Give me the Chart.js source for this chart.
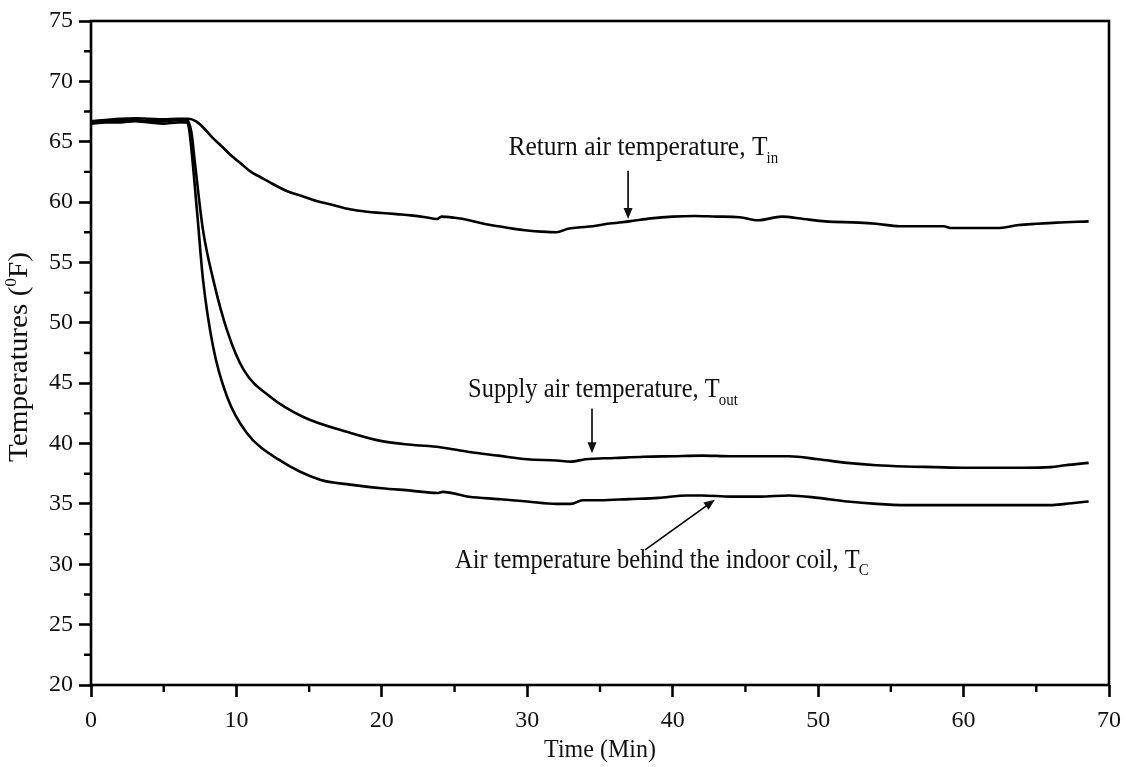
<!DOCTYPE html>
<html>
<head>
<meta charset="utf-8">
<script src="https://cdn.jsdelivr.net/npm/chart.js@4.4.1/dist/chart.umd.min.js"></script>
<style>
  html, body { margin: 0; padding: 0; background: #fff; }
</style>
</head>
<body>
<canvas id="tempChart" width="1130" height="767"></canvas>
<script>
// -------------------------------------
// Data
// -------------------------------------
const returnTime = [0, 1, 2, 3, 4, 5, 6, 6.7, 7.2, 7.7, 8.3, 9.0, 9.6, 10.3, 11, 11.6, 12.5, 13.5, 14.5, 15.5, 16.5, 17.8, 19, 20, 21, 22, 23, 23.8, 24.1, 25, 26, 27, 28, 29, 30, 31, 32, 32.8, 33.5, 34.5, 35.5, 37, 38.5, 40, 41.5, 43, 44.6, 45.9, 47.5, 49, 50.5, 52.8, 54, 55.6, 57, 58.6, 59.2, 61, 62.3, 63.8, 65, 66.4, 68.6];
const returnTemp = [66.7, 66.8, 66.9, 66.95, 66.9, 66.85, 66.9, 66.9, 66.7, 66.2, 65.4, 64.6, 63.9, 63.2, 62.5, 62.1, 61.5, 60.9, 60.5, 60.1, 59.8, 59.4, 59.2, 59.1, 59.0, 58.9, 58.75, 58.6, 58.8, 58.7, 58.5, 58.2, 58.0, 57.8, 57.65, 57.55, 57.5, 57.8, 57.9, 58.0, 58.2, 58.4, 58.65, 58.8, 58.85, 58.8, 58.75, 58.5, 58.8, 58.6, 58.4, 58.3, 58.2, 58.0, 58.0, 58.0, 57.85, 57.85, 57.85, 58.1, 58.2, 58.3, 58.4];

const supplyTime = [0, 1, 2, 3, 4, 5, 6, 6.6, 6.9, 7.15, 7.7, 8.4, 9.35, 10.5, 12.3, 14.6, 17.8, 20, 22, 24, 26, 28, 30, 32, 33, 34, 36, 38, 40, 42, 44, 46, 48, 50, 52, 54, 56, 58, 60, 62, 64, 66, 67, 68.6];
const supplyTemp = [66.6, 66.7, 66.8, 66.8, 66.7, 66.7, 66.8, 66.8, 65.8, 63.2, 57.7, 53.6, 49.4, 46.1, 43.9, 42.2, 40.9, 40.2, 39.9, 39.7, 39.3, 39.0, 38.7, 38.6, 38.5, 38.7, 38.8, 38.9, 38.95, 39.0, 38.95, 38.95, 38.95, 38.7, 38.4, 38.2, 38.1, 38.05, 38.0, 38.0, 38.0, 38.05, 38.2, 38.4];

const coilTime = [0, 1, 2, 3, 4, 5, 6, 6.6, 6.75, 7.3, 7.7, 8.4, 9.35, 10.7, 13, 15.75, 17.8, 20, 22, 23.8, 24.2, 26, 28, 30, 32, 33, 33.8, 35, 37, 39, 41, 42, 44, 46, 48, 50, 52, 54, 56, 58, 60, 62, 64, 66, 67, 68.6];
const coilTemp = [66.5, 66.6, 66.6, 66.7, 66.6, 66.5, 66.6, 66.6, 66.0, 59.1, 53.6, 48.0, 43.9, 40.9, 38.6, 37.0, 36.6, 36.3, 36.1, 35.9, 36.0, 35.6, 35.4, 35.2, 35.0, 35.0, 35.3, 35.3, 35.4, 35.5, 35.7, 35.7, 35.6, 35.6, 35.7, 35.5, 35.2, 35.0, 34.9, 34.9, 34.9, 34.9, 34.9, 34.9, 35.0, 35.2];

const xTicks = [0, 10, 20, 30, 40, 50, 60, 70];
const yTicks = [20, 25, 30, 35, 40, 45, 50, 55, 60, 65, 70, 75];

const FONT = "'Liberation Serif', 'Times New Roman', serif";
const STRETCH = 1.08; // the scanned figure's text is a little tall

function toPoints(ts, vs) {
  return ts.map((t, i) => ({ x: t, y: vs[i] }));
}

function lineSet(label, ts, vs) {
  return {
    label: label,
    data: toPoints(ts, vs),
    borderColor: "#000",
    borderWidth: 2.6,
    pointRadius: 0,
    fill: false,
    cubicInterpolationMode: "monotone"
  };
}

// -----------------------------------------------------
// Frame, minor ticks, axis titles and the arrow notes
// -----------------------------------------------------
function drawArrow(ctx, x1, y1, x2, y2) {
  const ang = Math.atan2(y2 - y1, x2 - x1);
  const len = 11, half = 4.5;
  ctx.beginPath();
  ctx.moveTo(x1, y1);
  ctx.lineTo(x2 - Math.cos(ang) * len * 0.8, y2 - Math.sin(ang) * len * 0.8);
  ctx.lineWidth = 1.6;
  ctx.stroke();
  ctx.beginPath();
  ctx.moveTo(x2, y2);
  ctx.lineTo(x2 - Math.cos(ang) * len - Math.sin(ang) * half, y2 - Math.sin(ang) * len + Math.cos(ang) * half);
  ctx.lineTo(x2 - Math.cos(ang) * len + Math.sin(ang) * half, y2 - Math.sin(ang) * len - Math.cos(ang) * half);
  ctx.closePath();
  ctx.fill();
}

function drawNote(ctx, text, sub, px, py, size) {
  ctx.save();
  ctx.translate(px, py);
  ctx.scale(1, STRETCH);
  ctx.font = size + "px " + FONT;
  ctx.textAlign = "left";
  ctx.textBaseline = "alphabetic";
  ctx.fillText(text, 0, 0);
  const w = ctx.measureText(text).width;
  ctx.font = "15px " + FONT;
  ctx.fillText(sub, w - 1, 7);
  ctx.restore();
}

const notesPlugin = {
  id: "notes",
  afterDraw(chart) {
    const { ctx, chartArea: a } = chart;
    const x = chart.scales.x, y = chart.scales.y;
    ctx.save();
    ctx.strokeStyle = "#000";
    ctx.fillStyle = "#111";

    // frame
    ctx.lineWidth = 2.6;
    ctx.strokeRect(a.left, a.top, a.right - a.left, a.bottom - a.top);

    // minor ticks
    ctx.lineWidth = 2.4;
    ctx.beginPath();
    for (let v = 5; v < 70; v += 10) {
      const px = x.getPixelForValue(v);
      ctx.moveTo(px, a.bottom);
      ctx.lineTo(px, a.bottom + 7);
    }
    for (let v = 22.5; v < 75; v += 5) {
      const py = y.getPixelForValue(v);
      ctx.moveTo(a.left, py);
      ctx.lineTo(a.left - 7, py);
    }
    ctx.stroke();

    // x title
    ctx.save();
    ctx.translate((a.left + a.right) / 2, 757);
    ctx.scale(1, STRETCH);
    ctx.font = "24px " + FONT;
    ctx.textAlign = "center";
    ctx.textBaseline = "alphabetic";
    ctx.fillText("Time (Min)", 0, 0);
    ctx.restore();

    // y title with superscript
    ctx.save();
    ctx.translate(27, 357);
    ctx.rotate(-Math.PI / 2);
    ctx.scale(STRETCH, 1);
    ctx.textAlign = "left";
    const p1 = "Temperatures (", p2 = "F)";
    ctx.font = "27px " + FONT;
    const w1 = ctx.measureText(p1).width, w3 = ctx.measureText(p2).width;
    ctx.font = "16px " + FONT;
    const w2 = ctx.measureText("0").width;
    let cx = -(w1 + w2 + w3) / 2;
    ctx.font = "27px " + FONT;
    ctx.fillText(p1, cx, 0);
    cx += w1;
    ctx.font = "16px " + FONT;
    ctx.fillText("0", cx, -11);
    cx += w2;
    ctx.font = "27px " + FONT;
    ctx.fillText(p2, cx, 0);
    ctx.restore();

    // notes
    drawNote(ctx, "Return air temperature, T", "in", x.getPixelForValue(28.7), y.getPixelForValue(63.9), 25.5);
    drawArrow(ctx, x.getPixelForValue(36.93), y.getPixelForValue(62.6), x.getPixelForValue(36.93), y.getPixelForValue(58.6));

    drawNote(ctx, "Supply air temperature, T", "out", x.getPixelForValue(25.93), y.getPixelForValue(43.86), 24.5);
    drawArrow(ctx, x.getPixelForValue(34.45), y.getPixelForValue(42.9), x.getPixelForValue(34.45), y.getPixelForValue(39.2));

    drawNote(ctx, "Air temperature behind the indoor coil, T", "C", x.getPixelForValue(25.03), y.getPixelForValue(29.7), 24.5);
    drawArrow(ctx, x.getPixelForValue(38.1), y.getPixelForValue(31.2), x.getPixelForValue(42.9), y.getPixelForValue(35.35));

    ctx.restore();
  }
};

const ctx = document.getElementById("tempChart");

new Chart(ctx, {
  type: "line",
  data: {
    datasets: [
      lineSet("Return air temperature, Tin", returnTime, returnTemp),
      lineSet("Supply air temperature, Tout", supplyTime, supplyTemp),
      lineSet("Air temperature behind the indoor coil, TC", coilTime, coilTemp)
    ]
  },
  options: {
    responsive: false,
    animation: false,
    layout: { padding: { top: 21, right: 21, left: 0, bottom: 0 } },
    plugins: {
      legend: { display: false },
      tooltip: { enabled: false }
    },
    scales: {
      x: {
        type: "linear",
        min: 0,
        max: 70,
        afterFit: (s) => { s.height = 82; },
        afterBuildTicks: (s) => { s.ticks = xTicks.map(v => ({ value: v })); },
        ticks: {
          padding: 9,
          color: "#111",
          font: { family: FONT, size: 24 }
        },
        grid: { drawOnChartArea: false, tickLength: 12, tickWidth: 2.6, tickColor: "#000" },
        border: { display: false }
      },
      y: {
        min: 20,
        max: 75,
        afterFit: (s) => { s.width = 91; },
        afterBuildTicks: (s) => { s.ticks = yTicks.map(v => ({ value: v })); },
        ticks: {
          padding: 6,
          color: "#111",
          font: { family: FONT, size: 24 }
        },
        grid: { drawOnChartArea: false, tickLength: 12, tickWidth: 2.6, tickColor: "#000" },
        border: { display: false }
      }
    }
  },
  plugins: [notesPlugin]
});
</script>
</body>
</html>
